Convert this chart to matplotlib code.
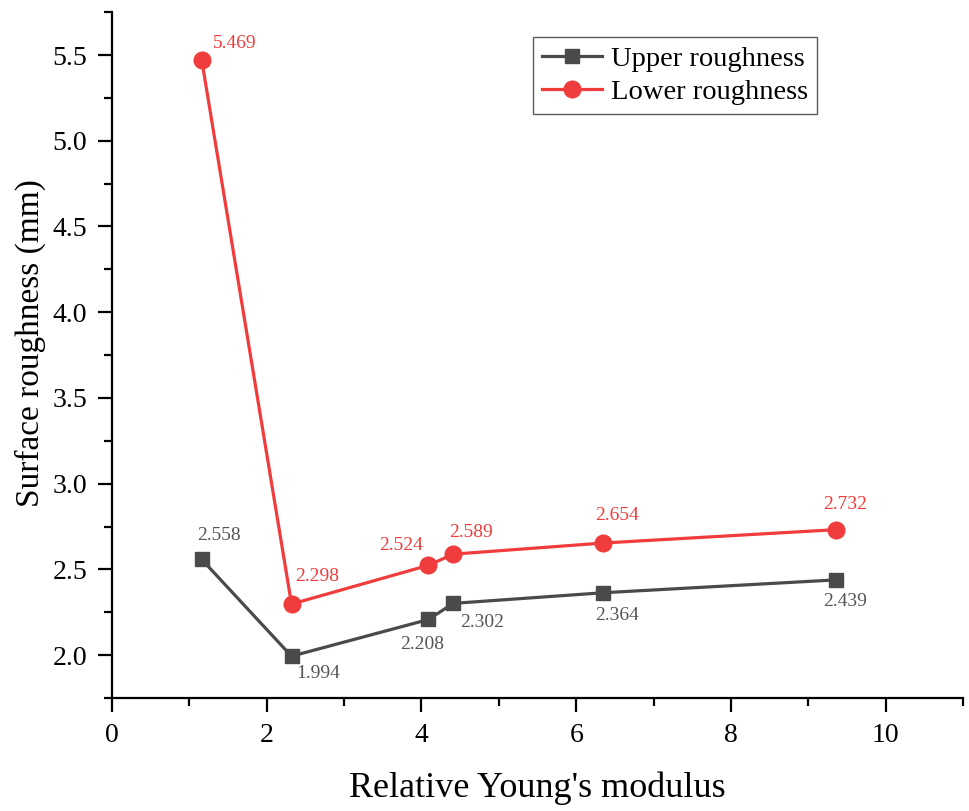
import matplotlib
matplotlib.use("Agg")
import matplotlib.pyplot as plt
from matplotlib.ticker import MultipleLocator

plt.rcParams['font.family'] = ['Liberation Serif', 'DejaVu Serif']

x_vals = [1.16, 2.32, 4.09, 4.41, 6.35, 9.36]
upper = [2.558, 1.994, 2.208, 2.302, 2.364, 2.439]
lower = [5.469, 2.298, 2.524, 2.589, 2.654, 2.732]
upper_labels = ["2.558", "1.994", "2.208", "2.302", "2.364", "2.439"]
lower_labels = ["5.469", "2.298", "2.524", "2.589", "2.654", "2.732"]
upper_offsets = [(17, 24), (27, -17), (-6, -25), (29, -19), (14, -23), (9, -22)]
lower_offsets = [(33, 17), (26, 28), (-27, 20), (18, 22), (14, 28), (9, 25)]

gray = '#4a4a4a'
red = '#f03c3c'

fig = plt.figure(figsize=(9.7, 8.11), dpi=100)
ax = fig.add_axes([0.1155, 0.1393, 0.8773, 0.8457])

ax.plot(x_vals, upper, color=gray, lw=2.3, marker='s', ms=10.5, label='Upper roughness')
ax.plot(x_vals, lower, color=red, lw=2.3, marker='o', ms=12, label='Lower roughness')

for x, y, t, off in zip(x_vals, upper, upper_labels, upper_offsets):
    ax.annotate(t, (x, y), xytext=off, textcoords='offset pixels', ha='center', va='center',
                fontsize=14, color='#555555')
for x, y, t, off in zip(x_vals, lower, lower_labels, lower_offsets):
    ax.annotate(t, (x, y), xytext=off, textcoords='offset pixels', ha='center', va='center',
                fontsize=14, color=red)

ax.set_xlim(0, 11)
ax.set_ylim(1.75, 5.75)
ax.xaxis.set_major_locator(MultipleLocator(2))
ax.xaxis.set_minor_locator(MultipleLocator(1))
ax.yaxis.set_major_locator(MultipleLocator(0.5))
ax.yaxis.set_minor_locator(MultipleLocator(0.25))
ax.yaxis.set_major_formatter(matplotlib.ticker.FormatStrFormatter('%.1f'))

for s in ['top', 'right']:
    ax.spines[s].set_visible(False)
for s in ['left', 'bottom']:
    ax.spines[s].set_linewidth(1.6)
    ax.spines[s].set_color('black')

ax.tick_params(which='major', direction='out', length=10, width=1.6, labelsize=20, pad=8)
ax.tick_params(which='minor', direction='out', length=6, width=1.6)

ax.set_xlabel("Relative Young's modulus", fontsize=26, labelpad=17)
ax.set_ylabel("Surface roughness (mm)", fontsize=24)
ax.yaxis.set_label_coords(-0.078, 0.517)

leg = ax.legend(loc='upper left', bbox_to_anchor=(0.495, 0.964), borderaxespad=0,
                fontsize=20.5, frameon=True, fancybox=False, handlelength=2.1,
                handletextpad=0.3, borderpad=0.32, labelspacing=0.25)
leg.get_frame().set_edgecolor('#333333')
leg.get_frame().set_linewidth(1.0)

fig.savefig('out.png', dpi=100)
